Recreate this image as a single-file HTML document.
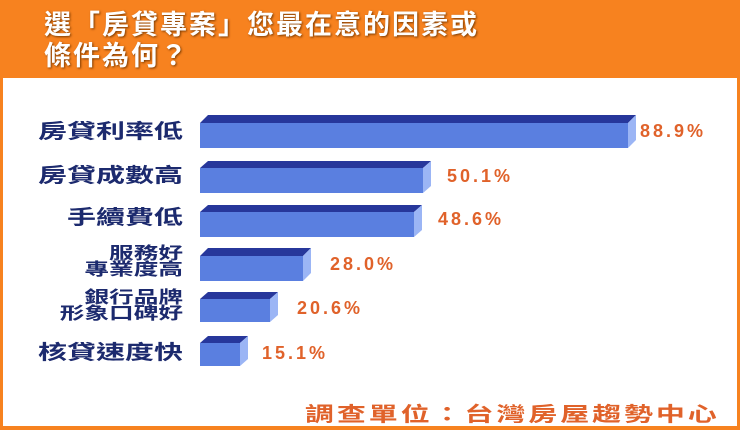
<!DOCTYPE html>
<html><head><meta charset="utf-8"><style>
body{margin:0;width:740px;height:430px;overflow:hidden;background:#f7821f;font-family:"Liberation Sans","Noto Sans CJK TC",sans-serif;}
.box{position:absolute;left:3px;top:78px;width:734px;height:348px;background:#fff;}
.title{position:absolute;left:44px;top:10px;color:#fff;font-size:27px;font-weight:bold;line-height:31px;letter-spacing:2px;text-shadow:1px 1px 2px #7a3a00;}
.lab{position:absolute;right:557px;color:#1c2a6e;font-weight:bold;font-size:20px;text-align:right;line-height:17px;text-shadow:0 0 2px #fff;transform:scaleX(1.45);transform-origin:right center;white-space:nowrap;}
.lab.two{font-size:17px;line-height:16px;transform:scaleX(1.45);}
.pct{position:absolute;color:#e0622a;font-weight:bold;font-size:18px;letter-spacing:3px;}
.foot{position:absolute;left:305px;top:398px;color:#e0622a;font-weight:bold;font-size:20px;letter-spacing:2px;white-space:nowrap;transform:scaleX(1.45);transform-origin:left center;}
</style></head><body>
<div class="box"></div>
<div class="title">選「房貸專案」您最在意的因素或<br>條件為何？</div>
<svg style="position:absolute;left:0;top:0" width="740" height="430">
<polygon points="200,123 208,115 636,115 628,123" fill="#27379b"/><rect x="200" y="123" width="428" height="25" fill="#5a7fe0"/><polygon points="628,123 636,115 636,140 628,148" fill="#9bb5f5"/>
<polygon points="200,168 208,161 431,161 423,168" fill="#27379b"/><rect x="200" y="168" width="223" height="25" fill="#5a7fe0"/><polygon points="423,168 431,161 431,186 423,193" fill="#9bb5f5"/>
<polygon points="200,212 208,205 422,205 414,212" fill="#27379b"/><rect x="200" y="212" width="214" height="25" fill="#5a7fe0"/><polygon points="414,212 422,205 422,230 414,237" fill="#9bb5f5"/>
<polygon points="200,256 208,248 311,248 303,256" fill="#27379b"/><rect x="200" y="256" width="103" height="25" fill="#5a7fe0"/><polygon points="303,256 311,248 311,273 303,281" fill="#9bb5f5"/>
<polygon points="200,299 208,292 278,292 270,299" fill="#27379b"/><rect x="200" y="299" width="70" height="23" fill="#5a7fe0"/><polygon points="270,299 278,292 278,315 270,322" fill="#9bb5f5"/>
<polygon points="200,343 208,336 248,336 240,343" fill="#27379b"/><rect x="200" y="343" width="40" height="23" fill="#5a7fe0"/><polygon points="240,343 248,336 248,359 240,366" fill="#9bb5f5"/>
</svg>
<div class="lab" style="top:124px">房貸利率低</div>
<div class="lab" style="top:168px">房貸成數高</div>
<div class="lab" style="top:210px">手續費低</div>
<div class="lab two" style="top:246px">服務好<br>專業度高</div>
<div class="lab two" style="top:290px">銀行品牌<br>形象口碑好</div>
<div class="lab" style="top:345px">核貸速度快</div>
<div class="pct" style="left:640px;top:121px">88.9%</div>
<div class="pct" style="left:447px;top:166px">50.1%</div>
<div class="pct" style="left:438px;top:209px">48.6%</div>
<div class="pct" style="left:330px;top:254px">28.0%</div>
<div class="pct" style="left:297px;top:298px">20.6%</div>
<div class="pct" style="left:262px;top:343px">15.1%</div>
<div class="foot">調查單位：台灣房屋趨勢中心</div>
</body></html>
